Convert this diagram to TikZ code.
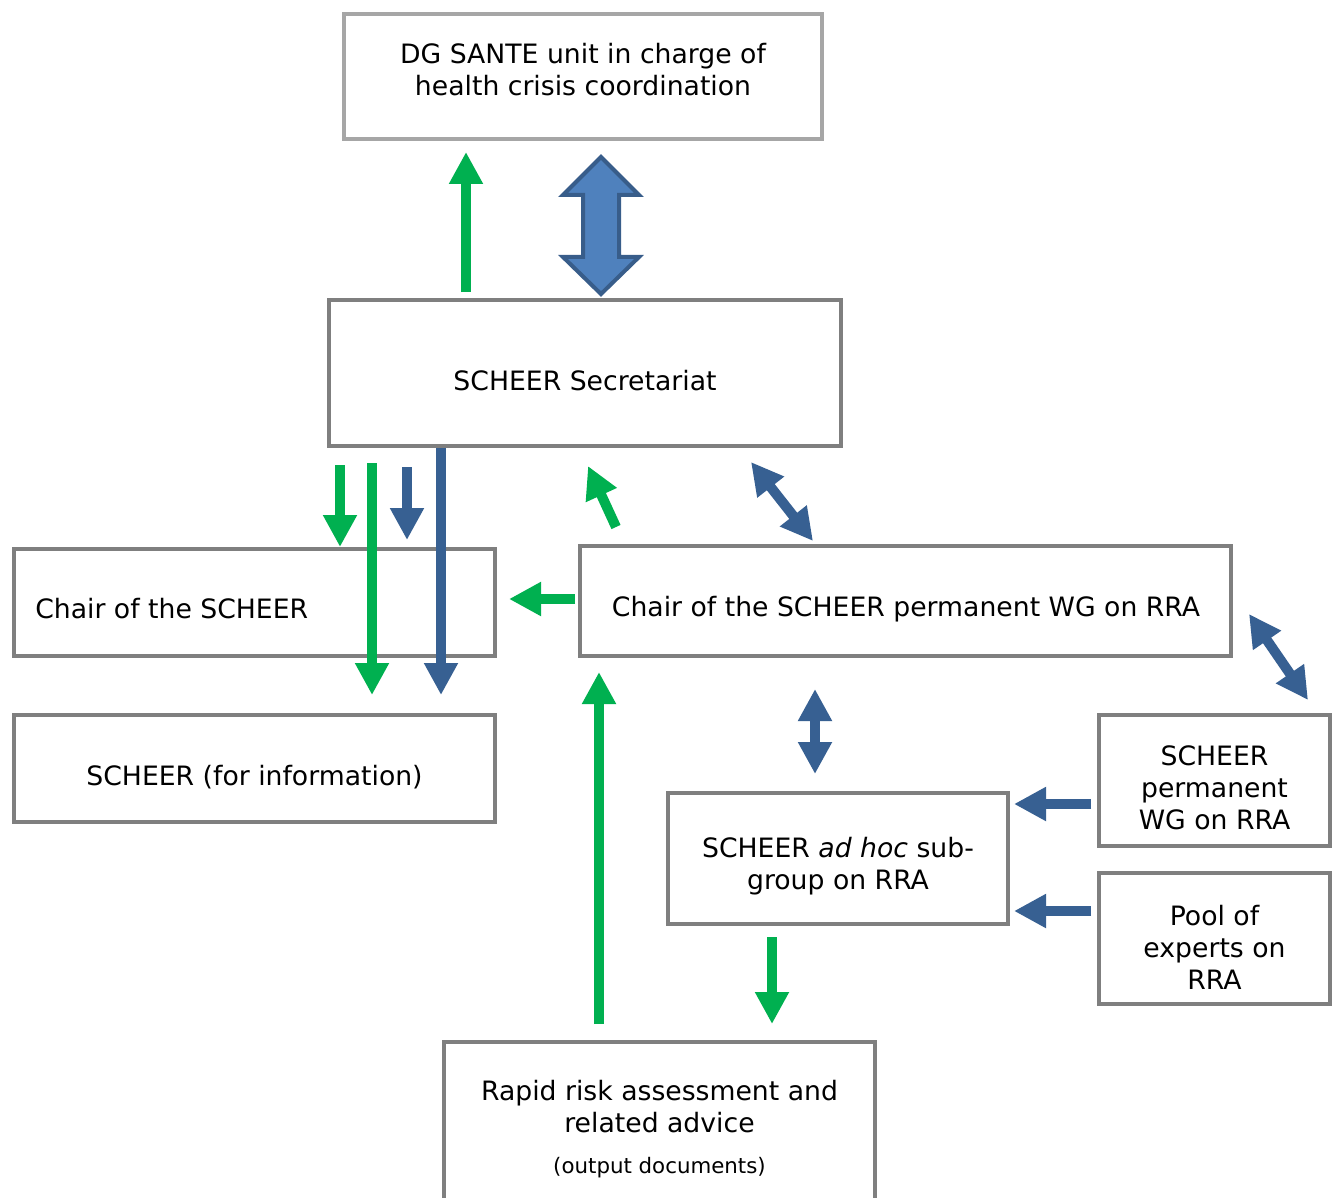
\documentclass[tikz,border=0pt]{standalone}
\usepackage{fontspec}
\setmainfont{DejaVu Sans}
\usetikzlibrary{arrows.meta}
\definecolor{bgreen}{HTML}{00B050}
\definecolor{bblue}{HTML}{376092}
\definecolor{bfill}{HTML}{4F81BD}
\definecolor{bedge}{HTML}{385D8A}
\definecolor{bgray}{HTML}{7F7F7F}
\definecolor{lgray}{HTML}{A6A6A6}
\begin{document}
\begin{tikzpicture}[x=0.75pt,y=-0.75pt,
  box/.style={draw=bgray,line width=3pt,fill=white,inner sep=0pt},
  lab/.style={inner sep=0pt,align=center,font=\fontsize{20}{24}\selectfont},
  tip/.style={Triangle[length=24pt,width=24pt]},
  garr/.style={draw=bgreen,line width=7.5pt,-{Triangle[length=24pt,width=24pt]}},
  barr/.style={draw=bblue,line width=7.5pt,-{Triangle[length=24pt,width=24pt]}},
  bdbl/.style={draw=bblue,line width=7.5pt,{Triangle[length=24pt,width=24pt]}-{Triangle[length=24pt,width=24pt]}},
]
\useasboundingbox[fill=white] (0,0) rectangle (1341,1198);

% boxes
\node[box,draw=lgray,minimum width=358.5pt,minimum height=93.75pt] (dg) at (583,76.5) {};
\node[box,minimum width=384pt,minimum height=109.5pt] (sec) at (585,373) {};
\node[box,minimum width=360.75pt,minimum height=80.25pt] (chair) at (254.5,602.5) {};
\node[box,minimum width=488.25pt,minimum height=82.5pt] (chairwg) at (905.5,601) {};
\node[box,minimum width=360.75pt,minimum height=80.25pt] (info) at (254.5,768.5) {};
\node[box,minimum width=173.25pt,minimum height=98.25pt] (perm) at (1214.5,780.5) {};
\node[box,minimum width=255pt,minimum height=98.25pt] (adhoc) at (838,858.5) {};
\node[box,minimum width=173.25pt,minimum height=98.25pt] (pool) at (1214.5,938.5) {};
\node[box,minimum width=323.25pt,minimum height=132pt] (rra) at (659.5,1130) {};

% texts
\node[lab] (dgtxt) at (583,70) {DG SANTE unit in charge of\\health crisis coordination};
\node[lab] (sectxt) at (585,381) {SCHEER Secretariat};
\node[lab,anchor=west] (chairtxt) at (35,609) {Chair of the SCHEER};
\node[lab] (chairwgtxt) at (906,609) {Chair of the SCHEER permanent WG on RRA};
\node[lab] (infotxt) at (254.5,777) {SCHEER (for information)};
\node[lab] (permtxt) at (1214.5,788) {SCHEER\\permanent\\WG on RRA};
\node[lab] (adhoctxt) at (838,866) {SCHEER \textit{ad hoc} sub-\\group on RRA};
\node[lab] (pooltxt) at (1214.5,947) {Pool of\\experts on\\RRA};
\node[lab] (rratxt) at (659.5,1129) {Rapid risk assessment and\\related advice\\[7pt]{\fontsize{16}{24}\selectfont(output documents)}};

% arrow end points
\coordinate (a1s) at (466,292); \coordinate (a1e) at (466,152);
\coordinate (a2s) at (340,465); \coordinate (a2e) at (340,547);
\coordinate (a3s) at (372,463); \coordinate (a3e) at (372,695);
\coordinate (a4s) at (407,467); \coordinate (a4e) at (407,540);
\coordinate (a5s) at (441,448); \coordinate (a5e) at (441,695);
\coordinate (a6s) at (616,527); \coordinate (a6e) at (588,466);
\coordinate (a7s) at (751,462); \coordinate (a7e) at (813,541);
\coordinate (a8s) at (575,599); \coordinate (a8e) at (509,599);
\coordinate (a9s) at (1249,614); \coordinate (a9e) at (1308,700);
\coordinate (a10s) at (815,689); \coordinate (a10e) at (815,774);
\coordinate (a11s) at (1091,804); \coordinate (a11e) at (1014,804);
\coordinate (a12s) at (1091,911); \coordinate (a12e) at (1014,911);
\coordinate (a13s) at (772,937); \coordinate (a13e) at (772,1024);
\coordinate (a14s) at (599,1024); \coordinate (a14e) at (599,672);

\draw[garr] (a1s) -- (a1e);
\draw[garr] (a2s) -- (a2e);
\draw[garr] (a3s) -- (a3e);
\draw[barr] (a4s) -- (a4e);
\draw[barr] (a5s) -- (a5e);
\draw[garr] (a6s) -- (a6e);
\draw[bdbl] (a7s) -- (a7e);
\draw[garr] (a8s) -- (a8e);
\draw[bdbl] (a9s) -- (a9e);
\draw[bdbl] (a10s) -- (a10e);
\draw[barr] (a11s) -- (a11e);
\draw[barr] (a12s) -- (a12e);
\draw[garr] (a13s) -- (a13e);
\draw[garr] (a14s) -- (a14e);

% big double arrow between DG SANTE and Secretariat
\draw[fill=bfill,draw=bedge,line width=3pt,line join=miter]
  (601,157) -- (639,195) -- (619,195) -- (619,257) -- (639,257) -- (601,294)
  -- (563,257) -- (583,257) -- (583,195) -- (563,195) -- cycle;
\end{tikzpicture}
\end{document}
